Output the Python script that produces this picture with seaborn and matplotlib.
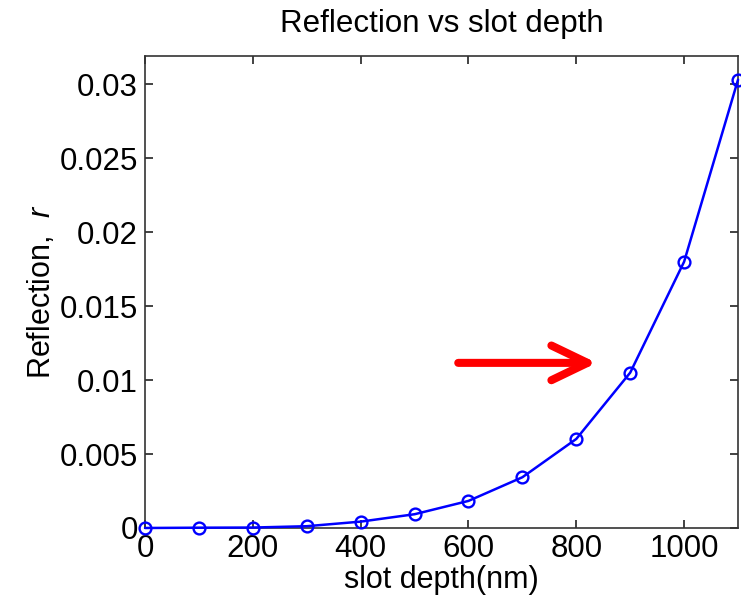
import matplotlib
matplotlib.use("Agg")
import matplotlib.pyplot as plt
import seaborn as sns
import pandas as pd

# Reflection coefficient for each slot depth
slot_depth_nm = [0, 100, 200, 300, 400, 500, 600, 700, 800, 900, 1000, 1100]
reflection = [0.0, 0.00002, 0.00003, 0.00012, 0.00043, 0.00093, 0.00183,
              0.00343, 0.00602, 0.0105, 0.0180, 0.0303]

x_ticks = [0, 200, 400, 600, 800, 1000]
y_ticks = [0, 0.005, 0.01, 0.015, 0.02, 0.025, 0.03]
y_tick_labels = ["0", "0.005", "0.01", "0.015", "0.02", "0.025", "0.03"]

# Arrow pointing at the steep part of the curve
arrow_tail = (581, 0.01116)
arrow_head = (838, 0.01116)

df = pd.DataFrame({"depth": slot_depth_nm, "r": reflection})

sns.set_theme(style="white")
plt.rcParams["font.family"] = ["Liberation Sans", "DejaVu Sans"]
plt.rcParams["mathtext.fontset"] = "custom"
plt.rcParams["mathtext.it"] = "Liberation Sans:italic"
plt.rcParams["mathtext.rm"] = "Liberation Sans"

fig = plt.figure(figsize=(7.41, 6.03), dpi=100)
ax = fig.add_axes([0.1957, 0.1244, 0.8003, 0.7827])

sns.lineplot(data=df, x="depth", y="r", ax=ax, color="#0000ff", lw=1.8,
             marker="o", markersize=8.5, markerfacecolor="none",
             markeredgecolor="#0000ff", markeredgewidth=1.7, clip_on=False,
             zorder=5)

ax.set_xlim(0, 1100)
ax.set_ylim(0, 0.0319)
ax.set_xticks(x_ticks)
ax.set_xticklabels([str(v) for v in x_ticks])
ax.set_yticks(y_ticks)
ax.set_yticklabels(y_tick_labels)

ax.tick_params(direction="in", length=6, width=1.2, colors="#222222",
               labelcolor="black", labelsize=22.5, top=True, right=True,
               bottom=True, left=True)
ax.tick_params(axis="y", pad=5)
ax.tick_params(axis="x", pad=4)
for s in ax.spines.values():
    s.set_visible(True)
    s.set_color("#333333")
    s.set_linewidth(1.2)

ax.set_title("Reflection vs slot depth", fontsize=22.5, pad=17, color="black")
ax.set_xlabel("slot depth(nm)", fontsize=22, labelpad=1, color="black")
ax.set_ylabel("Reflection,  $r$", fontsize=22, labelpad=2, color="black")

ax.annotate("", xy=arrow_head, xytext=arrow_tail,
            arrowprops=dict(arrowstyle="->,head_length=26,head_width=12.5",
                            mutation_scale=1, lw=5.8, color="#ff0000",
                            shrinkA=0, shrinkB=0, capstyle="round",
                            joinstyle="round"))

fig.savefig("out.png", dpi=100, facecolor="white")
